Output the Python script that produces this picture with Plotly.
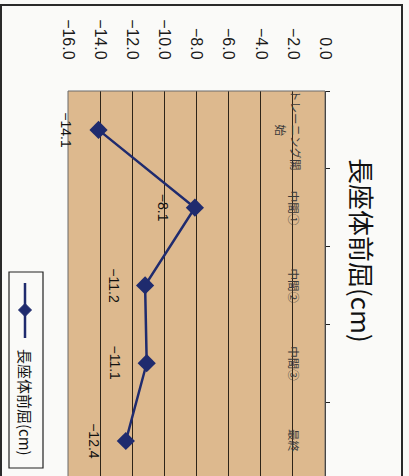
import plotly.graph_objects as go

categories = ["トレーニング開始", "中間①", "中間②", "中間③", "最終"]
category_labels = ["トレーニング開<br>始", "中間①", "中間②", "中間③", "最終"]
values = [-14.1, -8.1, -11.2, -11.1, -12.4]
series_name = "長座体前屈(cm)"
title_text = "長座体前屈(cm)"
x_ticks = [-16, -14, -12, -10, -8, -6, -4, -2, 0]

W, H = 409, 476
L, R, T, B = 68, 84, 91, 0
PW, PH = W - L - R, H - T - B

def px(xp):
    return (xp - L) / PW

def py(yp):
    return (H - B - yp) / PH

FONT = "Liberation Sans, Arial, Noto Sans CJK JP"
NAVY = "#1F2B6E"
GRID = "#2E2418"

fig = go.Figure()
fig.add_trace(go.Scatter(
    x=values, y=categories, mode="lines+markers",
    line=dict(color=NAVY, width=2.5),
    marker=dict(symbol="diamond", size=14, color=NAVY),
    showlegend=False, name=series_name,
))

annotations = []
for c, v in zip(categories, values):
    annotations.append(dict(
        x=v, y=c, xref="x", yref="y", text=f"{v:.1f}".replace("-", "−"),
        textangle=90, showarrow=False, xshift=-32,
        xanchor="center", yanchor="middle",
        font=dict(size=14, color="#111", family=FONT),
    ))
for i, (c, lab) in enumerate(zip(categories, category_labels)):
    xc = 288 if "<br>" in lab else 294
    annotations.append(dict(
        x=px(xc), y=c, xref="paper", yref="y", text=lab,
        textangle=90, showarrow=False, xanchor="center", yanchor="middle",
        font=dict(size=11.5, color="#3a3a3a", family="Noto Sans CJK JP"),
    ))
annotations.append(dict(
    x=px(363), y=py(250), xref="paper", yref="paper", text=title_text,
    textangle=90, showarrow=False, xanchor="center", yanchor="middle",
    font=dict(size=26, color="#111", family="Noto Sans CJK JP"),
))
annotations.append(dict(
    x=px(26), y=py(402), xref="paper", yref="paper", text=series_name,
    textangle=90, showarrow=False, xanchor="center", yanchor="middle",
    font=dict(size=15, color="#111", family="Noto Sans CJK JP"),
))

dx, dy = 6.5 / PW, 6.5 / PH
cx, cy = px(25), py(310)
shapes = [
    # outer chart border
    dict(type="rect", xref="paper", yref="paper", x0=px(1), x1=px(402), y0=py(490), y1=py(5),
         line=dict(color="#2a2a2a", width=2), layer="above"),
    # plot area edge
    dict(type="rect", xref="paper", yref="paper", x0=0, x1=1, y0=py(490), y1=1,
         line=dict(color="#6a6a6a", width=1), layer="above"),
    # legend box
    dict(type="rect", xref="paper", yref="paper", x0=px(9), x1=px(43), y0=py(468), y1=py(272),
         line=dict(color="#222", width=1.2)),
    dict(type="line", xref="paper", yref="paper", x0=cx, x1=cx, y0=py(283), y1=py(338),
         line=dict(color=NAVY, width=2.5)),
    dict(type="path", xref="paper", yref="paper",
         path=f"M {cx-dx} {cy} L {cx} {cy+dy} L {cx+dx} {cy} L {cx} {cy-dy} Z",
         fillcolor=NAVY, line=dict(color=NAVY, width=1)),
]

fig.update_layout(
    width=W, height=H,
    margin=dict(l=L, r=R, t=T, b=B, pad=0),
    paper_bgcolor="#FAFAF8",
    plot_bgcolor="#DDB98E",
    font=dict(family=FONT, color="#111"),
    annotations=annotations,
    shapes=shapes,
    showlegend=False,
    xaxis=dict(
        range=[-16, 0], side="top", tickvals=x_ticks, tickformat=".1f",
        tickangle=90, ticks="", showgrid=True, gridcolor=GRID, gridwidth=1.3,
        zeroline=False, showline=False, ticklabelstandoff=28,
        tickfont=dict(size=16, color="#1a1a1a", family=FONT),
        fixedrange=True,
    ),
    yaxis=dict(
        type="category", categoryorder="array", categoryarray=categories,
        range=[4.45, -0.5], side="right", showticklabels=False,
        ticks="outside", tickson="boundaries", ticklen=4, tickcolor="#222",
        showline=True, linecolor="#222", linewidth=1.3, showgrid=False,
        zeroline=False, fixedrange=True,
    ),
)

fig.write_html("out.html")
